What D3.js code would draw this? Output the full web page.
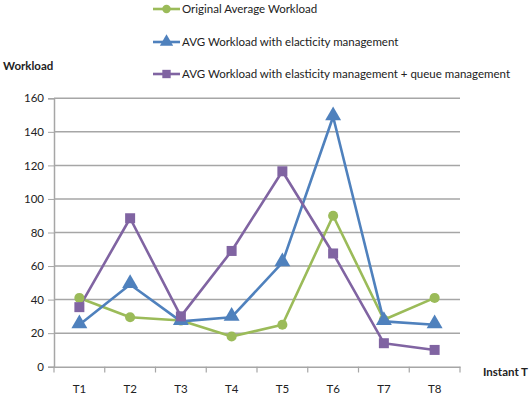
<!DOCTYPE html>
<html><head><meta charset="utf-8">
<script src="https://cdn.jsdelivr.net/npm/d3@7"></script>
<style>body{margin:0;background:#fff}svg{display:block}text{font-family:Lato,"Open Sans",sans-serif;fill:#222}</style>
</head><body><svg id="c" width="531" height="395"></svg>
<script>
const categories = ["T1","T2","T3","T4","T5","T6","T7","T8"];
const original = [41, 29.5, 27.5, 18, 25, 90, 28, 41];
const elasticity = [25, 49, 27, 29.5, 62, 149, 27, 25];
const queue = [35.5, 88.5, 30, 69, 116.5, 67.5, 14, 10];
const yTicks = [0,20,40,60,80,100,120,140,160];
const seriesNames = ["Original Average Workload","AVG Workload with elacticity management","AVG Workload with elasticity management + queue management"];
const colors = ["#9BBB59","#4F81BD","#8064A2"];
const shapes = [d3.symbolCircle, d3.symbolTriangle, d3.symbolSquare];
const symSizes = [80, 110, 100];

const svg = d3.select("#c");
const x = d3.scaleBand().domain(categories).range([54,460]);
const y = d3.scaleLinear().domain([0,160]).range([366.7,98.3]);

// grid
svg.append("g").selectAll("line").data(yTicks.filter(d=>d>0)).join("line")
  .attr("x1",54).attr("x2",460).attr("y1",d=>y(d)).attr("y2",d=>y(d))
  .attr("stroke","#a6a6a6").attr("stroke-width",1.5);

// y axis
const ya = svg.append("g").attr("transform","translate(54,0)")
  .call(d3.axisLeft(y).tickValues(yTicks).tickSize(6).tickPadding(4));
ya.select(".domain").attr("stroke","#a6a6a6").attr("stroke-width",1.5);
ya.selectAll(".tick line").attr("stroke","#a6a6a6");
ya.selectAll("text").style("font-size","11.5px").attr("fill","#222");

// x axis
const xa = svg.append("g").attr("transform","translate(0,366.7)")
  .call(d3.axisBottom(x).tickSize(0).tickPadding(18));
xa.select(".domain").attr("stroke","#a6a6a6").attr("stroke-width",1.5);
xa.selectAll("text").style("font-size","11.5px").attr("fill","#222");
const bounds = categories.map(c=>x(c)).concat([460]);
svg.append("g").selectAll("line").data(bounds).join("line")
  .attr("x1",d=>d).attr("x2",d=>d).attr("y1",366.7).attr("y2",372.5)
  .attr("stroke","#a6a6a6").attr("stroke-width",1.2);

const cx = c => x(c) + x.bandwidth()/2;
const all = [original, elasticity, queue];
all.forEach((vals,i)=>{
  const line = d3.line().x((d,j)=>cx(categories[j])).y(d=>y(d));
  svg.append("path").datum(vals).attr("d",line).attr("fill","none")
    .attr("stroke",colors[i]).attr("stroke-width",2.6).attr("stroke-linejoin","round");
});
all.forEach((vals,i)=>{
  svg.append("g").selectAll("path").data(vals).join("path")
    .attr("d",d3.symbol().type(shapes[i]).size(symSizes[i]))
    .attr("transform",(d,j)=>`translate(${cx(categories[j])},${y(d)+(i===1?-1:0)})`)
    .attr("fill",colors[i]);
});

// legend
const legY = [9, 42, 74];
seriesNames.forEach((n,i)=>{
  const g = svg.append("g").attr("transform",`translate(0,${legY[i]})`);
  g.append("line").attr("x1",153).attr("x2",180).attr("stroke",colors[i]).attr("stroke-width",2.6);
  g.append("path").attr("d",d3.symbol().type(shapes[i]).size(symSizes[i]*0.7)).attr("transform","translate(166.5,0)").attr("fill",colors[i]);
  g.append("text").attr("x",182).attr("dy","0.35em").style("font-size","11.5px").text(n);
});

svg.append("text").attr("x",3).attr("y",66).attr("dy","0.35em").style("font-size","11.5px").style("font-weight","bold").text("Workload");
svg.append("text").attr("x",483).attr("y",372).attr("dy","0.35em").style("font-size","11.5px").style("font-weight","bold").text("Instant T");
</script></body></html>
